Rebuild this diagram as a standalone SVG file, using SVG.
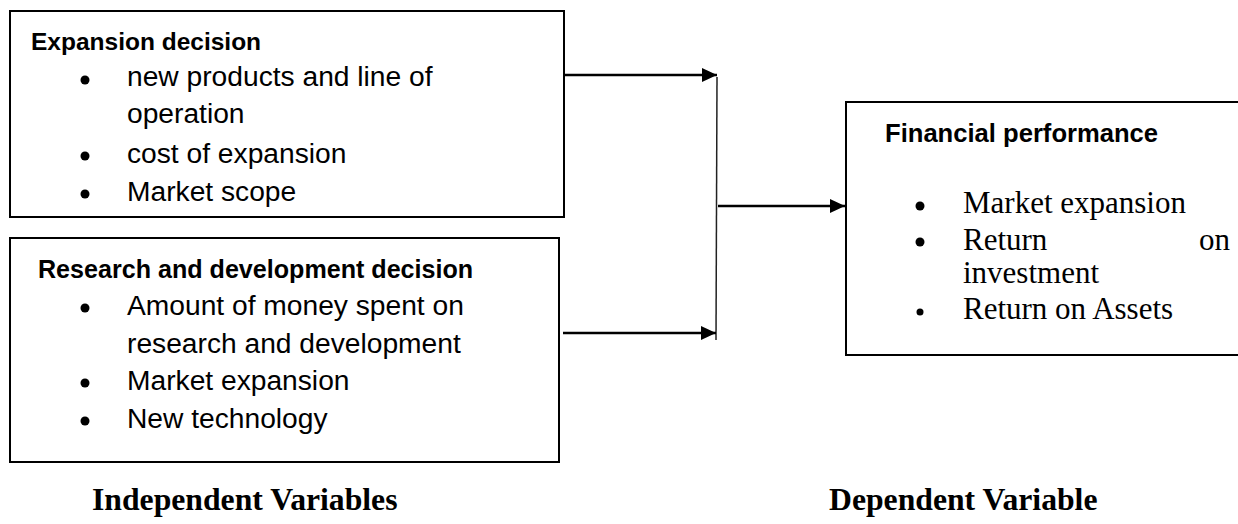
<svg xmlns="http://www.w3.org/2000/svg" width="1238" height="524" viewBox="0 0 1238 524">
<style>
.box{fill:#fff;stroke:#000;stroke-width:2}
.t{font-family:"Liberation Sans",Arial,sans-serif;font-size:28.2px;fill:#000}
.h{font-family:"Liberation Sans",Arial,sans-serif;font-size:24.5px;font-weight:bold;fill:#000}
.s{font-family:"Liberation Serif","Times New Roman",serif;font-size:31px;fill:#000}
.lbl{font-family:"Liberation Serif","Times New Roman",serif;font-size:31.7px;font-weight:bold;fill:#000}
.ln{stroke:#000;stroke-width:2.5;fill:none}
.vl{stroke:#222;stroke-width:1.5;fill:none}
</style>
<defs>
<marker id="ah" viewBox="0 0 15 14" refX="15" refY="7" markerWidth="15" markerHeight="14" markerUnits="userSpaceOnUse" orient="auto">
<path d="M0,0 L15,7 L0,14 Z" fill="#000"/>
</marker>
</defs>
<rect width="1238" height="524" fill="#fff"/>
<g id="expansion">
<rect class="box" x="10" y="11" width="554" height="206"/>
<text class="h" x="31" y="50">Expansion decision</text>
<circle cx="85" cy="80" r="4.5"/>
<text class="t" x="127" y="86">new products and line of</text>
<text class="t" x="127" y="123">operation</text>
<circle cx="85" cy="156" r="4.5"/>
<text class="t" x="127" y="163">cost of expansion</text>
<circle cx="85" cy="194" r="4.5"/>
<text class="t" x="127" y="201">Market scope</text>
</g>
<g id="research">
<rect class="box" x="10" y="238" width="549" height="224"/>
<text class="h" x="38" y="278" style="font-size:25.1px">Research and development decision</text>
<circle cx="85" cy="308" r="4.5"/>
<text class="t" x="127" y="315">Amount of money spent on</text>
<text class="t" x="127" y="353">research and development</text>
<circle cx="85" cy="383" r="4.5"/>
<text class="t" x="127" y="390">Market expansion</text>
<circle cx="85" cy="421" r="4.5"/>
<text class="t" x="127" y="428">New technology</text>
</g>
<g id="financial">
<rect class="box" x="846" y="102" width="400" height="253"/>
<text class="h" x="885" y="142" style="font-size:25.6px">Financial performance</text>
<circle cx="920" cy="206" r="4.5"/>
<text class="s" x="963" y="213">Market expansion</text>
<circle cx="920" cy="242" r="4.5"/>
<text class="s" x="963" y="250">Return</text>
<text class="s" x="1199" y="250">on</text>
<text class="s" x="963" y="283">investment</text>
<circle cx="920" cy="312" r="3.5"/>
<text class="s" x="963" y="319">Return on Assets</text>
</g>
<g id="connectors">
<line class="ln" x1="564" y1="75" x2="717" y2="75" marker-end="url(#ah)"/>
<line class="vl" x1="717" y1="77" x2="716" y2="340"/>
<line class="ln" x1="718" y1="206" x2="845" y2="206" marker-end="url(#ah)"/>
<line class="ln" x1="563" y1="333" x2="716" y2="333" marker-end="url(#ah)"/>
</g>
<g id="labels">
<text class="lbl" x="92" y="510">Independent Variables</text>
<text class="lbl" x="829" y="510">Dependent Variable</text>
</g>
</svg>
